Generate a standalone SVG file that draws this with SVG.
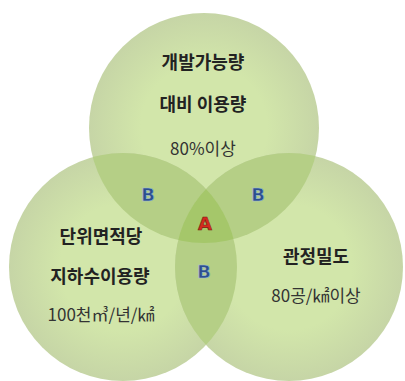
<svg xmlns="http://www.w3.org/2000/svg" width="405" height="381" viewBox="0 0 405 381">
<style>
.c{fill:url(#g)}
.t{font-family:"Noto Sans CJK KR","Noto Sans",sans-serif;text-anchor:middle;fill:#222}
.b{font-weight:bold;font-size:18px}
.r{font-size:17px;fill:#333}
.p{fill:#b5cf86}
.x{fill:#a5c76a}
.lb{font-family:"DejaVu Sans","Liberation Sans",sans-serif;font-weight:bold;font-size:18px;text-anchor:middle;fill:#2c4f8e;stroke:#9fbcd8;stroke-width:0.6}
.la{fill:#d42a1e;stroke:#7a1a10}
</style>
<defs>
<radialGradient id="g" cx="50%" cy="50%" r="50%">
<stop offset="0.55" stop-color="#d2e6aa"/>
<stop offset="1" stop-color="#c6d5a6"/>
</radialGradient>
<clipPath id="cT"><circle cx="204" cy="128" r="115"/></clipPath>
<clipPath id="cL"><circle cx="123" cy="267" r="114"/></clipPath>
<clipPath id="cR"><circle cx="289" cy="267" r="114"/></clipPath>
</defs>
<g id="node-top">
<circle class="c" cx="204" cy="128" r="115"/>
<text class="t b" x="203" y="69">개발가능량</text>
<text class="t b" x="203" y="111">대비 이용량</text>
<text class="t r" x="203" y="155">80%이상</text>
</g>
<g id="node-left">
<circle class="c" cx="123" cy="267" r="114"/>
<text class="t b" x="101" y="243">단위면적당</text>
<text class="t b" x="100" y="283">지하수이용량</text>
<text class="t r" x="101" y="321">100천㎥/년/㎢</text>
</g>
<g id="node-right">
<circle class="c" cx="289" cy="267" r="114"/>
<text class="t b" x="316" y="263">관정밀도</text>
<text class="t r" x="316" y="302">80공/㎢이상</text>
</g>
<g id="connectors">
<circle class="p" cx="123" cy="267" r="114" clip-path="url(#cT)"/>
<circle class="p" cx="289" cy="267" r="114" clip-path="url(#cT)"/>
<circle class="p" cx="289" cy="267" r="114" clip-path="url(#cL)"/>
<g clip-path="url(#cT)"><circle class="x" cx="289" cy="267" r="114" clip-path="url(#cL)"/></g>
</g>
<g id="labels">
<text class="lb" x="148" y="201">B</text>
<text class="lb" x="258" y="201">B</text>
<text class="lb" x="204" y="278">B</text>
<text class="lb la" x="205" y="230">A</text>
</g>
</svg>
